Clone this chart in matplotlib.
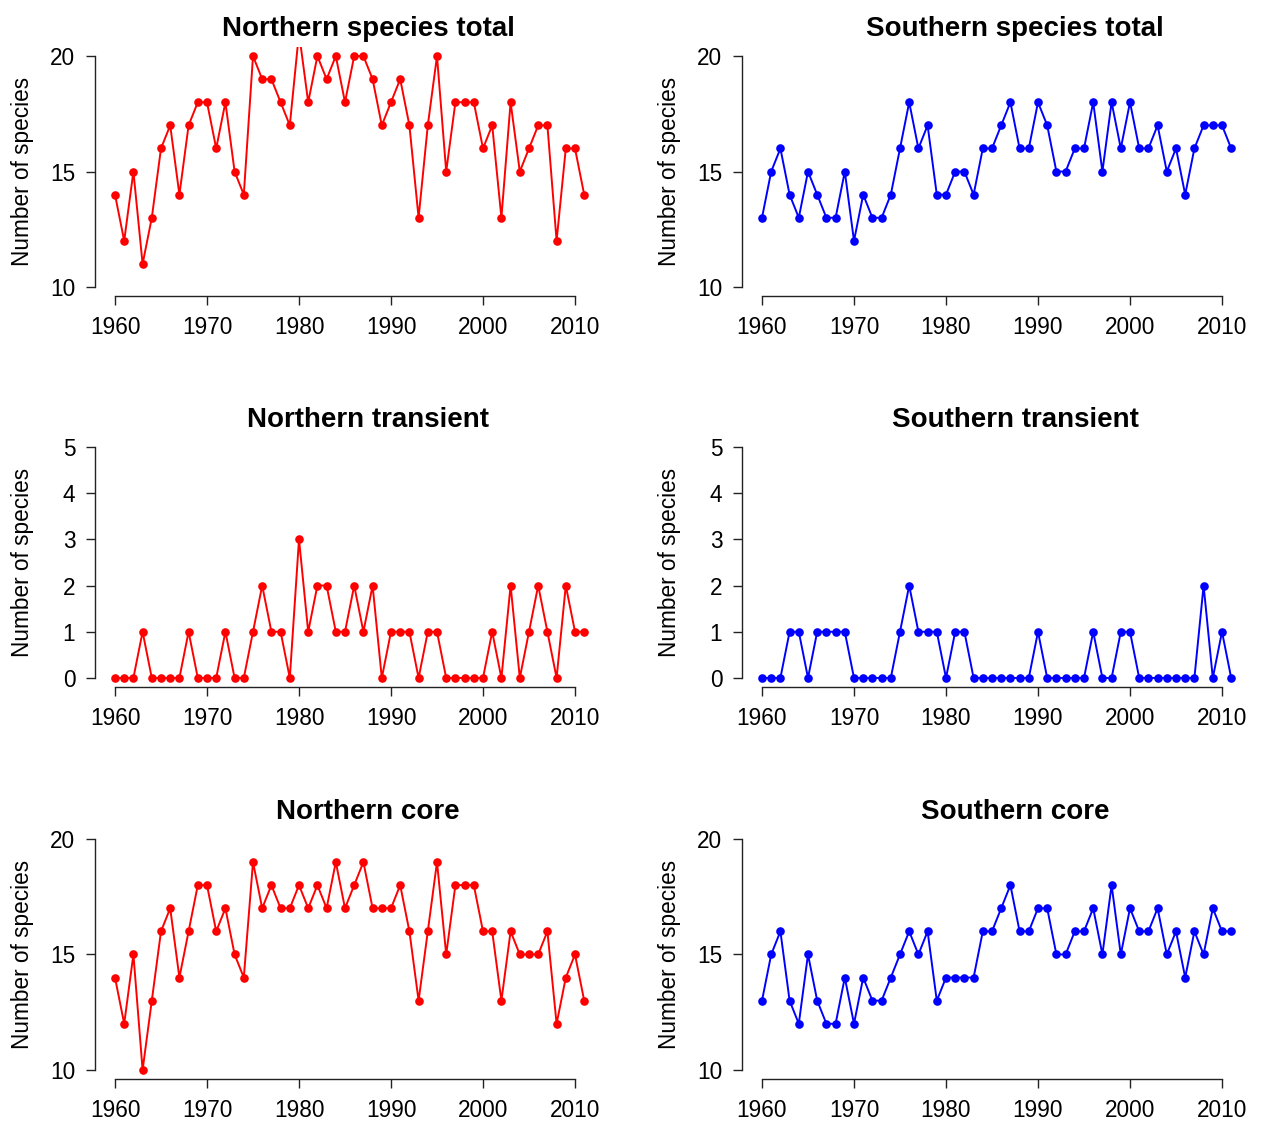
import matplotlib
matplotlib.use("Agg")
import matplotlib.pyplot as plt
import matplotlib.transforms as mtransforms

plt.rcParams['font.family'] = ['Liberation Sans', 'DejaVu Sans']

years = list(range(1960, 2012))

north_total = [14, 12, 15, 11, 13, 16, 17, 14, 17, 18, 18, 16, 18, 15, 14, 20, 19, 19, 18, 17,
               21, 18, 20, 19, 20, 18, 20, 20, 19, 17, 18, 19, 17, 13, 17, 20, 15, 18, 18, 18,
               16, 17, 13, 18, 15, 16, 17, 17, 12, 16, 16, 14]
north_transient = [0, 0, 0, 1, 0, 0, 0, 0, 1, 0, 0, 0, 1, 0, 0, 1, 2, 1, 1, 0,
                   3, 1, 2, 2, 1, 1, 2, 1, 2, 0, 1, 1, 1, 0, 1, 1, 0, 0, 0, 0,
                   0, 1, 0, 2, 0, 1, 2, 1, 0, 2, 1, 1]
north_core = [14, 12, 15, 10, 13, 16, 17, 14, 16, 18, 18, 16, 17, 15, 14, 19, 17, 18, 17, 17,
              18, 17, 18, 17, 19, 17, 18, 19, 17, 17, 17, 18, 16, 13, 16, 19, 15, 18, 18, 18,
              16, 16, 13, 16, 15, 15, 15, 16, 12, 14, 15, 13]

south_total = [13, 15, 16, 14, 13, 15, 14, 13, 13, 15, 12, 14, 13, 13, 14, 16, 18, 16, 17, 14,
               14, 15, 15, 14, 16, 16, 17, 18, 16, 16, 18, 17, 15, 15, 16, 16, 18, 15, 18, 16,
               18, 16, 16, 17, 15, 16, 14, 16, 17, 17, 17, 16]
south_transient = [0, 0, 0, 1, 1, 0, 1, 1, 1, 1, 0, 0, 0, 0, 0, 1, 2, 1, 1, 1,
                   0, 1, 1, 0, 0, 0, 0, 0, 0, 0, 1, 0, 0, 0, 0, 0, 1, 0, 0, 1,
                   1, 0, 0, 0, 0, 0, 0, 0, 2, 0, 1, 0]
south_core = [13, 15, 16, 13, 12, 15, 13, 12, 12, 14, 12, 14, 13, 13, 14, 15, 16, 15, 16, 13,
              14, 14, 14, 14, 16, 16, 17, 18, 16, 16, 17, 17, 15, 15, 16, 16, 17, 15, 18, 15,
              17, 16, 16, 17, 15, 16, 14, 16, 15, 17, 16, 16]

panels = [
    ("Northern species total", north_total, "red", (10, 20), [10, 15, 20]),
    ("Southern species total", south_total, "blue", (10, 20), [10, 15, 20]),
    ("Northern transient", north_transient, "red", (0, 5), [0, 1, 2, 3, 4, 5]),
    ("Southern transient", south_transient, "blue", (0, 5), [0, 1, 2, 3, 4, 5]),
    ("Northern core", north_core, "red", (10, 20), [10, 15, 20]),
    ("Southern core", south_core, "blue", (10, 20), [10, 15, 20]),
]
xticks = [1960, 1970, 1980, 1990, 2000, 2010]

W, H = 1262, 1122
fig = plt.figure(figsize=(W / 100, H / 100), dpi=100)

# plot-region geometry in pixels
px_per_year = 9.2
col_x1960 = [115.0, 762.0]
x_lo, x_hi = 1957.8, 2017.2
row_top = [46.8, 437.7, 829.7]
row_h = 249.5

for i, (title, vals, color, (ylo, yhi), yticks) in enumerate(panels):
    r, c = divmod(i, 2)
    left = col_x1960[c] - (1960 - x_lo) * px_per_year
    right = min(col_x1960[c] + (x_hi - 1960) * px_per_year, W)
    xr = x_lo + (right - left) / px_per_year
    top = row_top[r]
    ax = fig.add_axes([left / W, 1 - (top + row_h) / H, (right - left) / W, row_h / H])
    pad_y = (yhi - ylo) * 0.04
    ax.set_xlim(x_lo, xr)
    ax.set_ylim(ylo - pad_y, yhi + pad_y)

    ax.plot(years, vals, color=color, lw=1.4, marker='o', ms=6.2,
            markeredgewidth=0, solid_joinstyle='round')

    for s in ("top", "right"):
        ax.spines[s].set_visible(False)
    ax.spines["left"].set_bounds(ylo, yhi)
    ax.spines["bottom"].set_bounds(1960, 2010)
    for s in ("left", "bottom"):
        ax.spines[s].set_linewidth(1.0)
        ax.spines[s].set_color("#222222")
    ax.set_xticks(xticks)
    ax.set_yticks(yticks)
    ax.tick_params(direction='out', length=6.5, width=1.0, color="#222222",
                   labelsize=16.3, pad=7.5)

    # title centred over the plot region
    tt = mtransforms.blended_transform_factory(ax.transData, ax.transAxes)
    ax.text((x_lo + x_hi) / 2, 1.0, title, transform=mtransforms.offset_copy(
        tt, fig=fig, x=0, y=18, units='dots'),
        ha='center', va='center', fontsize=20, fontweight='bold')

    ax.text(0, 0.5, "Number of species", rotation=90, ha='center', va='center',
            fontsize=16.3, transform=mtransforms.offset_copy(
                ax.transAxes, fig=fig, x=-72, y=0, units='dots'))

fig.savefig("out.png", dpi=100)
